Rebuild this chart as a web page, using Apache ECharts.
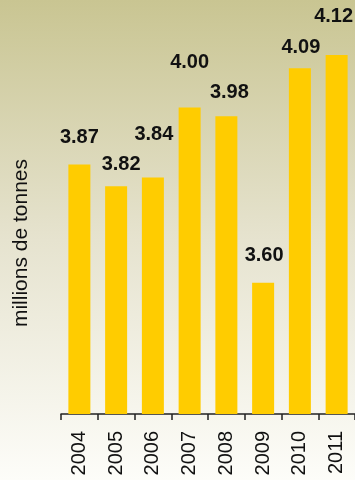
<!DOCTYPE html>
<html>
<head>
<meta charset="utf-8">
<script src="https://cdn.jsdelivr.net/npm/echarts@6/dist/echarts.min.js"></script>
<style>
  html, body { margin: 0; padding: 0; }
  #main { width: 355px; height: 480px; }
</style>
</head>
<body>
<div id="main"></div>
<script>
// data
var years = ['2004', '2005', '2006', '2007', '2008', '2009', '2010', '2011'];
var tonnes = [3.87, 3.82, 3.84, 4.00, 3.98, 3.60, 4.09, 4.12];
var yName = 'millions de tonnes';

// label placement (not data): [dx, lift] above each bar top
var labelShift = [[0, 17], [5, 12], [1, 33], [0, 35], [3, 14], [1, 17], [1, 11], [-3, 29]];

var chartDom = document.getElementById('main');
var myChart = echarts.init(chartDom);
var option;

var barData = tonnes.map(function (v, i) {
    return {
        value: v,
        label: { offset: [labelShift[i][0], -labelShift[i][1]] }
    };
});

option = {
    backgroundColor: {
        type: 'linear', x: 0, y: 0, x2: 0, y2: 1,
        colorStops: [
            { offset: 0, color: '#c9c592' },
            { offset: 0.5, color: '#e6e3cf' },
            { offset: 1, color: '#fdfdf9' }
        ]
    },
    animation: false,
    grid: { left: 61, top: 20, width: 299, height: 394 },
    graphic: [{
        type: 'text',
        x: 21, y: 243,
        rotation: Math.PI / 2,
        style: {
            text: yName,
            fontFamily: 'Liberation Sans, Arial, sans-serif',
            fontSize: 21,
            fill: '#111',
            align: 'center',
            verticalAlign: 'middle'
        }
    }],
    xAxis: {
        type: 'category',
        data: years,
        axisLine: { lineStyle: { color: '#222', width: 1.5 } },
        axisTick: {
            show: true,
            alignWithLabel: false,
            interval: 0,
            length: 6,
            lineStyle: { color: '#222', width: 1.5 }
        },
        axisLabel: {
            rotate: 90,
            margin: 17,
            fontSize: 20,
            color: '#111',
            fontFamily: 'Liberation Sans, Arial, sans-serif'
        }
    },
    yAxis: {
        type: 'value',
        min: 3.3,
        max: 4.2,
        axisLine: { show: false },
        axisTick: { show: false },
        axisLabel: { show: false },
        splitLine: { show: false }
    },
    series: [{
        type: 'bar',
        data: barData,
        barWidth: 22,
        itemStyle: { color: '#ffcc00' },
        label: {
            show: true,
            position: 'top',
            distance: 0,
            formatter: function (p) { return p.value.toFixed(2); },
            fontSize: 20,
            fontWeight: 'bold',
            color: '#111',
            fontFamily: 'Liberation Sans, Arial, sans-serif'
        }
    }]
};

option && myChart.setOption(option);
</script>
</body>
</html>
